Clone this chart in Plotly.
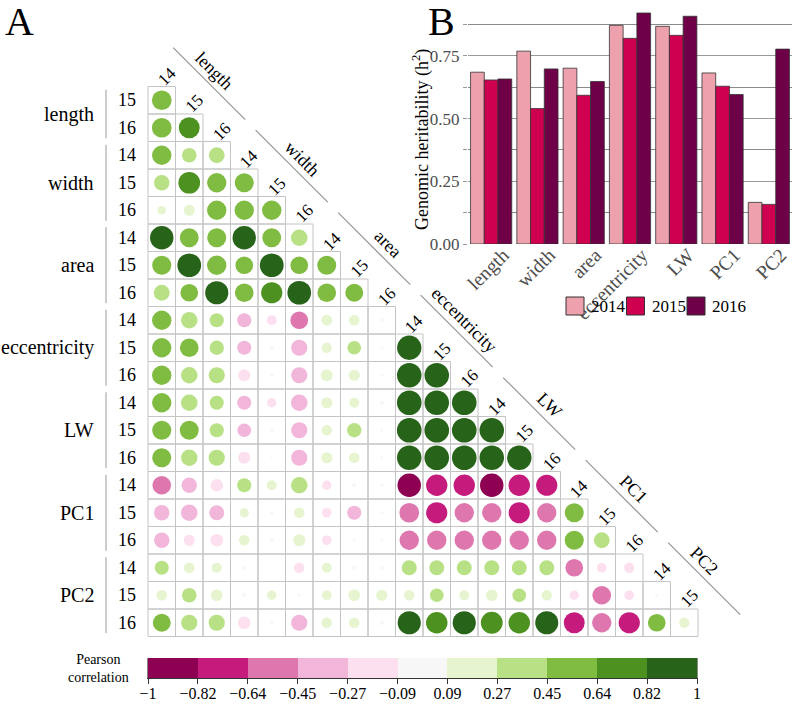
import numpy as np
import plotly.graph_objects as go

# ---------------- data ----------------
traits = ["length", "width", "area", "eccentricity", "LW", "PC1", "PC2"]
years = ["14", "15", "16"]

# lower-triangular Pearson correlations; row r = variable r+1, column c = variable c
# variable order: length14, length15, length16, width14, ..., PC2_16
corr_rows = [
    [0.62],
    [0.62, 0.70],
    [0.60, 0.34, 0.40],
    [0.38, 0.75, 0.60, 0.58],
    [0.12, 0.20, 0.60, 0.60, 0.60],
    [0.88, 0.57, 0.58, 0.88, 0.57, 0.44],
    [0.58, 0.90, 0.60, 0.50, 0.90, 0.50, 0.57],
    [0.40, 0.50, 0.86, 0.56, 0.72, 0.90, 0.56, 0.52],
    [0.60, 0.44, 0.32, -0.32, -0.16, -0.50, 0.19, 0.18, 0.02],
    [0.60, 0.56, 0.33, -0.32, 0.03, -0.42, 0.17, 0.30, 0.01, 0.95],
    [0.60, 0.44, 0.42, -0.24, 0.02, -0.42, 0.23, 0.20, 0.02, 0.96, 0.96],
    [0.60, 0.44, 0.32, -0.32, -0.14, -0.44, 0.20, 0.16, 0.03, 0.97, 0.96, 0.97],
    [0.58, 0.57, 0.32, -0.30, 0.02, -0.42, 0.18, 0.33, 0.02, 0.97, 0.97, 0.97, 0.96],
    [0.58, 0.43, 0.42, -0.24, 0.01, -0.42, 0.20, 0.18, 0.02, 0.96, 0.97, 0.97, 0.96, 0.96],
    [-0.55, -0.38, -0.25, 0.32, 0.16, 0.44, -0.14, -0.03, 0.02, -0.88, -0.73, -0.73, -0.88, -0.74, -0.72],
    [-0.38, -0.44, -0.36, 0.14, 0.02, 0.18, -0.15, -0.32, 0.01, -0.62, -0.72, -0.60, -0.60, -0.72, -0.60, 0.58],
    [-0.38, -0.20, -0.26, 0.18, 0.03, 0.24, -0.15, -0.02, 0.01, -0.60, -0.60, -0.60, -0.60, -0.60, -0.60, 0.58, 0.40],
    [0.32, 0.18, 0.16, 0.02, -0.01, -0.18, 0.16, 0.03, 0.02, 0.36, 0.36, 0.36, 0.36, 0.36, 0.36, -0.50, -0.15, -0.17],
    [0.18, 0.34, 0.22, 0.03, 0.14, -0.02, 0.15, 0.22, 0.20, 0.18, 0.30, 0.16, 0.22, 0.30, 0.17, -0.14, -0.56, -0.15, 0.02],
    [0.52, 0.42, 0.42, -0.25, 0.02, -0.42, 0.18, 0.18, 0.03, 0.86, 0.74, 0.86, 0.76, 0.74, 0.85, -0.70, -0.60, -0.72, 0.50, 0.17],
]

# heritability (panel B)
h2_2014 = [0.685, 0.769, 0.701, 0.872, 0.868, 0.682, 0.166]
h2_2015 = [0.654, 0.540, 0.593, 0.820, 0.832, 0.629, 0.158]
h2_2016 = [0.658, 0.698, 0.648, 0.921, 0.908, 0.596, 0.777]
bar_years = ["2014", "2015", "2016"]

# colour scale breaks
breaks = [-1, -0.82, -0.64, -0.45, -0.27, -0.09, 0.09, 0.27, 0.45, 0.64, 0.82, 1]
break_labels = ["\u22121", "\u22120.82", "\u22120.64", "\u22120.45", "\u22120.27", "\u22120.09",
                "0.09", "0.27", "0.45", "0.64", "0.82", "1"]
bin_colors = ["#8E0152", "#C51B7D", "#DE77AE", "#F1B6DA", "#FDE0EF", "#F7F7F7",
              "#E6F5D0", "#B8E186", "#7FBC41", "#4D9221", "#276419"]
bar_colors = ["#EDA1AC", "#D00050", "#6E0048"]

# ---------------- layout constants ----------------
W, H = 795, 710
CELL = 27.5
X0, Y0 = 148, 86.5  # pixel of left/top edge of the grid
FONT = "Liberation Serif"

def px_to_col(px):
    return (px - X0) / CELL - 0.5

def py_to_row(py):
    return (py - Y0) / CELL - 0.5

colorscale = []
for i, col in enumerate(bin_colors):
    colorscale.append([(breaks[i] + 1) / 2, col])
    colorscale.append([(breaks[i + 1] + 1) / 2, col])

xs, ys, vals = [], [], []
for r, row in enumerate(corr_rows):
    for c, v in enumerate(row):
        xs.append(c)
        ys.append(r)
        vals.append(v)
vals = np.array(vals)
sizes = 25.0 * np.sqrt(np.abs(vals))

fig = go.Figure()

fig.add_trace(go.Scatter(
    x=xs, y=ys, mode="markers",
    marker=dict(size=sizes, color=vals, colorscale=colorscale, cmin=-1, cmax=1, opacity=1,
                line=dict(width=0), showscale=False),
    xaxis="x", yaxis="y", showlegend=False, hoverinfo="skip"))

# bars
for yr, vals_b, col in zip(bar_years, [h2_2014, h2_2015, h2_2016], bar_colors):
    fig.add_trace(go.Bar(x=traits, y=vals_b, name=yr, showlegend=False,
                         marker=dict(color=col, line=dict(color="#333333", width=0.8)),
                         xaxis="x2", yaxis="y2"))

# colorbar as heatmap
mids = [(breaks[i] + breaks[i + 1]) / 2 for i in range(len(bin_colors))]
fig.add_trace(go.Heatmap(z=[mids], x=list(range(len(breaks))), y=[0, 1],
                         colorscale=colorscale, zmin=-1, zmax=1, showscale=False,
                         xaxis="x3", yaxis="y3", hoverinfo="skip"))

shapes = []
# cell borders
for r, row in enumerate(corr_rows):
    for c in range(len(row)):
        shapes.append(dict(type="rect", xref="x", yref="y", x0=c - 0.5, x1=c + 0.5, y0=r - 0.5, y1=r + 0.5,
                           line=dict(color="#C4C4C4", width=1), layer="below"))

annotations = []
n_cols = len(corr_rows)
# diagonal year labels
for c in range(n_cols):
    annotations.append(dict(x=c + 0.18, y=c - 1 + 0.12, xref="x", yref="y", text=years[c % 3],
                            xanchor="center", yanchor="middle",
                            showarrow=False, textangle=-45, font=dict(size=17, family=FONT, color="black")))
# diagonal group labels and lines
label_off = [0.42, 0.62, 0.73, 0.5, 0.59, 0.65, 0.24]
for g, name in enumerate(traits):
    t = 3 * g + label_off[g]
    d = 3.0
    annotations.append(dict(x=t + d / 2, y=t - d / 2, xref="x", yref="y", text=name, showarrow=False,
                            xanchor="center", yanchor="middle",
                            textangle=45, font=dict(size=18, family=FONT, color="black")))
    t0, t1, dl = 3 * g - 0.75, 3 * g + 1.87, 2.33
    shapes.append(dict(type="line", xref="x", yref="y", x0=t0 + dl / 2, y0=t0 - dl / 2,
                       x1=t1 + dl / 2, y1=t1 - dl / 2, line=dict(color="#9A9A9A", width=1.3)))

# left row labels
for r in range(n_cols):
    annotations.append(dict(x=px_to_col(138), y=r, xref="x", yref="y", text=years[(r + 1) % 3],
                            xanchor="right", yanchor="middle", showarrow=False,
                            font=dict(size=18, family=FONT, color="black")))
for g, name in enumerate(traits):
    rows = [r for r in range(n_cols) if 3 * g <= r + 1 <= 3 * g + 2]
    rmin, rmax = min(rows), max(rows)
    annotations.append(dict(x=px_to_col(96), y=(rmin + rmax) / 2, xref="x", yref="y", text=name,
                            xanchor="right", yanchor="middle", showarrow=False,
                            font=dict(size=20, family=FONT, color="black")))
    shapes.append(dict(type="line", xref="x", yref="y", x0=px_to_col(106), x1=px_to_col(106),
                       y0=rmin - 0.5 + 0.12, y1=rmax + 0.5 - 0.12, line=dict(color="#9A9A9A", width=1)))

# panel letters
annotations.append(dict(x=19 / W, y=1 - 22 / H, xref="paper", yref="paper", text="A", showarrow=False,
                        xanchor="center", yanchor="middle", font=dict(size=40, family=FONT, color="black")))
annotations.append(dict(x=441 / W, y=1 - 22 / H, xref="paper", yref="paper", text="B", showarrow=False,
                        xanchor="center", yanchor="middle", font=dict(size=40, family=FONT, color="black")))
# colorbar title
annotations.append(dict(x=98 / W, y=1 - 668 / H, xref="paper", yref="paper", text="Pearson<br>correlation",
                        xanchor="center", yanchor="middle",
                        showarrow=False, font=dict(size=14, family=FONT, color="black")))
# y-axis title of panel B
annotations.append(dict(x=421 / W, y=1 - 140 / H, xref="paper", yref="paper",
                        text="Genomic heritability (h<sup>2</sup>)", textangle=-90,
                        xanchor="center", yanchor="middle", showarrow=False,
                        font=dict(size=18, family=FONT, color="black")))

# manual legend for panel B
leg_x0, leg_step, leg_y, box = 566, 60.5, 306, 18
for i, (yr, col) in enumerate(zip(bar_years, bar_colors)):
    bx = leg_x0 + i * leg_step
    shapes.append(dict(type="rect", xref="paper", yref="paper",
                       x0=bx / W, x1=(bx + box) / W, y0=1 - (leg_y + box / 2) / H, y1=1 - (leg_y - box / 2) / H,
                       fillcolor=col, line=dict(color="#333333", width=1)))
    annotations.append(dict(x=(bx + box + 5) / W, y=1 - leg_y / H, xref="paper", yref="paper", text=yr,
                            xanchor="left", yanchor="middle", showarrow=False,
                            font=dict(size=17, family=FONT, color="black")))

fig.update_layout(
    width=W, height=H, margin=dict(l=0, r=0, t=0, b=0, pad=0, autoexpand=False),
    paper_bgcolor="white", plot_bgcolor="white",
    font=dict(family=FONT, color="black"),
    shapes=shapes, annotations=annotations, showlegend=False,
    xaxis=dict(domain=[0, 1], range=[px_to_col(0), px_to_col(W)], visible=False, fixedrange=True, automargin=False),
    yaxis=dict(domain=[0, 1], range=[py_to_row(H), py_to_row(0)], visible=False, fixedrange=True, automargin=False),
    xaxis2=dict(domain=[468 / W, 792 / W], anchor="y2", showgrid=False, tickangle=-45, ticks="", automargin=False,
                ticklabelshift=12, ticklabelstandoff=-5,
                tickfont=dict(size=19.5, family=FONT, color="#4D4D4D"), showline=False, zeroline=False),
    yaxis2=dict(domain=[1 - 244 / H, 1 - 12 / H], anchor="x2", range=[0, 0.925], tick0=0, dtick=0.25,
                tickformat=".2f", showgrid=True, gridcolor="#9A9A9A", gridwidth=1.2, zeroline=False,
                ticks="outside", ticklen=4, tickcolor="#9A9A9A", automargin=False,
                minor=dict(dtick=0.125, tick0=0, showgrid=True, gridcolor="#8A8A8A", gridwidth=1,
                           ticks="outside", ticklen=4, tickcolor="#9A9A9A"),
                tickfont=dict(size=17, family=FONT, color="#4D4D4D")),
    xaxis3=dict(domain=[148 / W, 697 / W], anchor="y3", range=[0, len(breaks) - 1], automargin=False,
                tickvals=list(range(len(breaks))), ticktext=break_labels, ticks="outside", ticklen=5,
                ticklabelstandoff=-4,
                tickcolor="#333333", showline=True, linecolor="#333333", mirror=False, showgrid=False,
                zeroline=False, tickfont=dict(size=16, family=FONT, color="black")),
    yaxis3=dict(domain=[1 - 678 / H, 1 - 658 / H], anchor="x3", range=[0, 1], showticklabels=False,
                automargin=False, showline=True, linecolor="#888888", mirror=True, showgrid=False,
                zeroline=False, ticks=""),
    barmode="group", bargap=0.11, bargroupgap=0,
)

fig.write_html("out.html", config={"displayModeBar": False},
               post_script="document.body.style.margin='0px';")
